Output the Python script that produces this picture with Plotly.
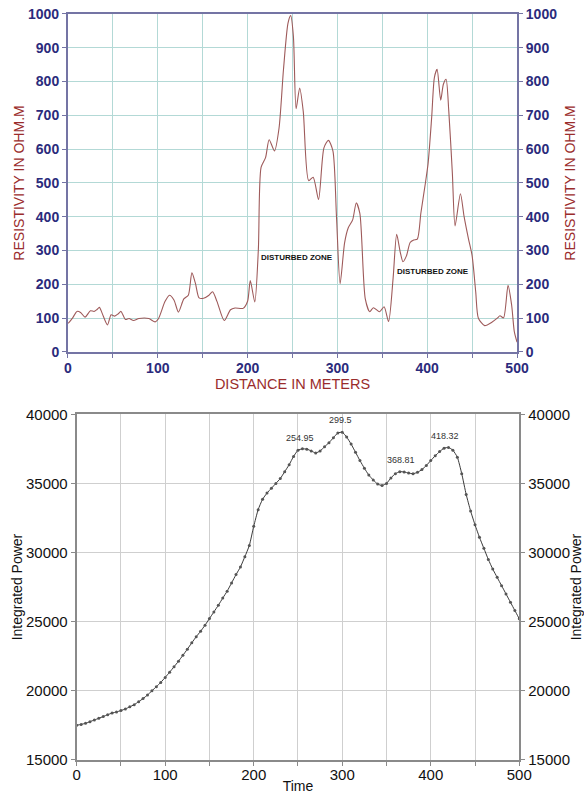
import plotly.graph_objects as go

# ---------------- Data: resistivity profile ----------------
distance_m = [0, 1, 5, 10, 14, 19, 25, 29, 32, 35,
              38, 44, 48, 52, 56, 59, 64, 68, 73, 79,
              90, 97, 101, 108, 113, 118, 123, 129, 134, 138,
              142, 146, 151, 157, 161, 166, 174, 181, 186, 195,
              200, 203, 208, 212, 215, 220, 224, 230, 235, 240,
              245, 248, 251, 254, 258, 262, 268, 273, 279, 285,
              290, 295, 299, 303, 308, 312, 317, 321, 325, 331,
              336, 340, 347, 352, 357, 362, 366, 370, 373, 377,
              381, 385, 389, 393, 398, 401, 405, 408, 411, 415,
              418, 421, 424, 428, 431, 437, 441, 446, 450, 454,
              457, 464, 472, 478, 481, 485, 490, 494, 497, 500]
resistivity = [85, 87, 100, 120, 117, 103, 122, 120, 125, 132,
               115, 80, 110, 106, 113, 120, 96, 99, 93, 99,
               99, 89, 100, 149, 168, 154, 118, 157, 168, 234,
               202, 160, 159, 168, 178, 149, 93, 125, 130, 129,
               150, 211, 148, 304, 546, 575, 628, 595, 662, 837,
               973, 995, 934, 720, 781, 711, 507, 517, 451, 604,
               626, 595, 400, 202, 323, 367, 391, 441, 410, 158,
               119, 131, 119, 134, 90, 217, 348, 295, 267, 285,
               324, 331, 334, 412, 500, 558, 695, 812, 836, 745,
               792, 807, 714, 529, 373, 468, 402, 334, 285, 178,
               100, 78, 88, 100, 107, 101, 197, 139, 60, 29]
zone_labels = ["DISTURBED ZONE", "DISTURBED ZONE"]
zone_x = [255, 406]
zone_y = [280, 238]

# ---------------- Data: integrated power ----------------
time_vals = [0, 5, 10, 15, 20, 25, 30, 35, 40, 45,
             50, 55, 60, 65, 70, 75, 80, 85, 90, 95,
             100, 105, 110, 115, 120, 125, 130, 135, 140, 145,
             150, 155, 160, 165, 170, 175, 180, 185, 190, 195,
             200, 205, 210, 215, 220, 225, 230, 235, 240, 245,
             250, 255, 260, 265, 270, 275, 280, 285, 290, 295,
             300, 305, 310, 315, 320, 325, 330, 335, 340, 345,
             350, 355, 360, 365, 370, 375, 380, 385, 390, 395,
             400, 405, 410, 415, 420, 425, 430, 435, 440, 445,
             450, 455, 460, 465, 470, 475, 480, 485, 490, 495,
             500]
power = [17500, 17560, 17640, 17760, 17880, 18000, 18130, 18260, 18380, 18460,
         18560, 18680, 18830, 18990, 19200, 19430, 19690, 19990, 20290, 20600,
         20960, 21340, 21730, 22130, 22560, 23000, 23460, 23900, 24300, 24740,
         25220, 25700, 26180, 26700, 27200, 27800, 28400, 28950, 29700, 30500,
         31900, 33100, 33850, 34300, 34650, 35000, 35350, 35850, 36350, 36950,
         37400, 37500, 37480, 37350, 37200, 37350, 37650, 37950, 38300, 38650,
         38700, 38350, 37850, 37250, 36650, 36100, 35600, 35250, 34950, 34850,
         35000, 35400, 35700, 35850, 35820, 35750, 35700, 35800, 36000, 36300,
         36650, 37000, 37300, 37550, 37600, 37400, 36900, 35700, 34200, 33000,
         32000, 31100, 30300, 29500, 28800, 28200, 27600, 27000, 26400, 25800,
         25200]
peak_labels = ["254.95", "299.5", "368.81", "418.32"]
peak_x = [252, 298, 366, 416]
peak_y = [38280, 39590, 36690, 38450]

FONT = "Arial, Liberation Sans, sans-serif"
TOP_AX = "#7474a4"
TOP_TICK = "#2b2b7c"
TOP_TITLE = "#9a2c2c"
TOP_GRID = "#b3d9d6"
BOT_AX = "#8a8a8a"
BOT_GRID = "#cfcfcf"

fig = go.Figure()
fig.add_trace(go.Scatter(x=distance_m, y=resistivity, mode="lines",
                         line=dict(color="#9e5a5a", width=1.1, shape="spline", smoothing=0.7),
                         xaxis="x", yaxis="y", showlegend=False, hoverinfo="skip"))
fig.add_trace(go.Scatter(x=[0], y=[0], mode="markers", marker=dict(opacity=0),
                         xaxis="x", yaxis="y2", showlegend=False, hoverinfo="skip"))
fig.add_trace(go.Scatter(x=time_vals, y=power, mode="lines+markers",
                         line=dict(color="#3a3a3a", width=1, shape="spline", smoothing=0.5),
                         marker=dict(color="#555555", size=3),
                         xaxis="x3", yaxis="y3", showlegend=False, hoverinfo="skip"))
fig.add_trace(go.Scatter(x=[0], y=[15000], mode="markers", marker=dict(opacity=0),
                         xaxis="x3", yaxis="y4", showlegend=False, hoverinfo="skip"))

def top_title(standoff):
    return dict(text="RESISTIVITY IN OHM.M", font=dict(family=FONT, size=14, color=TOP_TITLE), standoff=standoff)

def bot_title(standoff):
    return dict(text="Integrated Power", font=dict(family=FONT, size=14, color="#111111"), standoff=standoff)

top_yaxis_common = dict(range=[0, 1000], dtick=100, showline=True, linecolor=TOP_AX, linewidth=2,
                        ticks="outside", ticklen=4, tickcolor=TOP_AX,
                        tickfont=dict(family=FONT, size=14, color=TOP_TICK, weight="bold"),
                        zeroline=False, automargin=False, fixedrange=True)
bot_yaxis_common = dict(range=[15000, 40000], dtick=5000, tickformat="d",
                        showline=True, linecolor=BOT_AX, linewidth=2,
                        ticks="outside", ticklen=4, tickcolor=BOT_AX,
                        tickfont=dict(family=FONT, size=15, color="#111111"),
                        zeroline=False, automargin=False)

fig.update_layout(
    width=584, height=794,
    margin=dict(l=0, r=0, t=0, b=0),
    paper_bgcolor="white", plot_bgcolor="white",
    showlegend=False,
    xaxis=dict(domain=[0.1164, 0.8853], anchor="y", range=[0, 500], dtick=100,
               showline=True, linecolor=TOP_AX, linewidth=2, mirror=True,
               ticks="outside", ticklen=4, tickcolor=TOP_AX, ticklabelstandoff=-2,
               gridcolor=TOP_GRID, gridwidth=1,
               minor=dict(dtick=50, showgrid=True, gridcolor=TOP_GRID, ticks="outside", ticklen=4, tickcolor=TOP_AX),
               tickfont=dict(family=FONT, size=14, color=TOP_TICK, weight="bold"),
               title=dict(text="DISTANCE IN METERS", font=dict(family=FONT, size=14.5, color=TOP_TITLE), standoff=0),
               zeroline=False, automargin=False),
    yaxis=dict(domain=[0.5567, 0.9824], anchor="x", gridcolor=TOP_GRID, gridwidth=1,
               title=top_title(0), **top_yaxis_common),
    yaxis2=dict(overlaying="y", side="right", anchor="x", showgrid=False,
                title=top_title(9), **top_yaxis_common),
    xaxis3=dict(domain=[0.1313, 0.8892], anchor="y3", range=[0, 500], dtick=100,
                showline=True, linecolor=BOT_AX, linewidth=2, mirror=True,
                ticks="outside", ticklen=4, tickcolor=BOT_AX, ticklabelstandoff=-4,
                gridcolor=BOT_GRID, gridwidth=1,
                minor=dict(dtick=50, showgrid=True, gridcolor=BOT_GRID, ticks="outside", ticklen=4, tickcolor=BOT_AX),
                tickfont=dict(family=FONT, size=15, color="#111111"),
                title=dict(text="Time", font=dict(family=FONT, size=14, color="#111111"), standoff=6),
                zeroline=False, automargin=False),
    yaxis3=dict(domain=[0.0431, 0.4782], anchor="x3", gridcolor=BOT_GRID, gridwidth=1,
                title=bot_title(0), **bot_yaxis_common),
    yaxis4=dict(overlaying="y3", side="right", anchor="x3", showgrid=False,
                title=bot_title(2), **bot_yaxis_common),
)

for txt, xv, yv in zip(zone_labels, zone_x, zone_y):
    fig.add_annotation(x=xv, y=yv, xref="x", yref="y", text="<b>" + txt + "</b>", showarrow=False,
                       font=dict(family=FONT, size=8, color="#111111"))
for txt, xv, yv in zip(peak_labels, peak_x, peak_y):
    fig.add_annotation(x=xv, y=yv, xref="x3", yref="y3", text=txt, showarrow=False,
                       font=dict(family=FONT, size=9, color="#333333"))

fig.write_html("out.html")
